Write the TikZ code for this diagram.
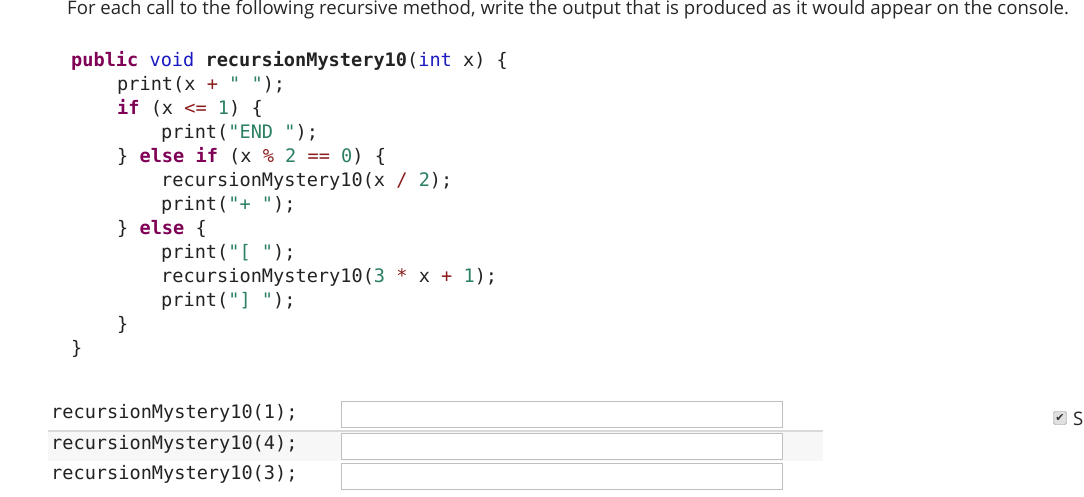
\documentclass[tikz,border=0pt]{standalone}
\usepackage{fontspec}
\setmainfont{Open Sans}
\newfontfamily\codefont{DejaVu Sans Mono}
\newfontfamily\symfont{DejaVu Sans}
\definecolor{kw}{HTML}{7F0055}
\definecolor{ty}{HTML}{1A1AC0}
\definecolor{st}{HTML}{2A8060}
\definecolor{op}{HTML}{8B1A1A}
\definecolor{tx}{HTML}{222222}
\newcommand{\K}[1]{\textcolor{kw}{\bfseries #1}}
\newcommand{\T}[1]{\textcolor{ty}{#1}}
\newcommand{\Sg}[1]{\textcolor{st}{#1}}
\newcommand{\Op}[1]{\textcolor{op}{#1}}
\begin{document}
\begin{tikzpicture}[x=1pt,y=-1pt,
  code/.style={anchor=base west,inner sep=0,font=\codefont\fontsize{18.6}{22}\selectfont,text=tx},
  ibox/.style={draw=black!25,line width=0.8pt,minimum width=441pt,minimum height=26pt,anchor=north west,inner sep=0}]
\useasboundingbox (0,0) rectangle (1084,496);
\node[anchor=base west,inner sep=0,font=\fontsize{18.6}{22}\selectfont,text=black!85] (hdr) at (67,14) {For each call to the following recursive method, write the output that is produced as it would appear on the console.};
\node[code] (l1) at (71,66) {\K{public} \T{void} \textbf{recursionMystery10}(\T{int} x) \{};
\node[code] (l2) at (117,90) {print(x \Op{+} \Sg{" "});};
\node[code] (l3) at (117,114) {\K{if} (x \Op{<=} \Sg{1}) \{};
\node[code] (l4) at (161,138) {print(\Sg{"END "});};
\node[code] (l5) at (117,162) {\} \K{else if} (x \Op{\%} \Sg{2} \Op{==} \Sg{0}) \{};
\node[code] (l6) at (161,186) {recursionMystery10(x \Op{/} \Sg{2});};
\node[code] (l7) at (161,210) {print(\Sg{"+ "});};
\node[code] (l8) at (117,234) {\} \K{else} \{};
\node[code] (l9) at (161,258) {print(\Sg{"[ "});};
\node[code] (l10) at (161,282) {recursionMystery10(\Sg{3} \Op{*} x \Op{+} \Sg{1});};
\node[code] (l11) at (161,306) {print(\Sg{"] "});};
\node[code] (l12) at (117,330) {\}};
\node[code] (l13) at (71,354) {\}};
\fill[black!3] (48,431) rectangle (823,461);
\draw[black!15,line width=1.5pt] (48,431) -- (823,431);
\node[code] (q1) at (51,418) {recursionMystery10(1);};
\node[code] (q2) at (51,449) {recursionMystery10(4);};
\node[code] (q3) at (51,479) {recursionMystery10(3);};
\node[ibox,fill=white] (b1) at (341,401) {};
\node[ibox,fill=white] (b2) at (341,433) {};
\node[ibox,fill=white] (b3) at (341,463) {};
\node[draw=black!45,fill=black!12,rounded corners=1.5pt,minimum size=13pt,inner sep=0,anchor=center,font=\symfont\fontsize{11}{11}\selectfont,text=black!80] (cb) at (1060,418) {✔};
\node[anchor=base west,inner sep=0,font=\fontsize{18.6}{22}\selectfont,text=black!85] (s) at (1073,425) {S};
\end{tikzpicture}
\end{document}
